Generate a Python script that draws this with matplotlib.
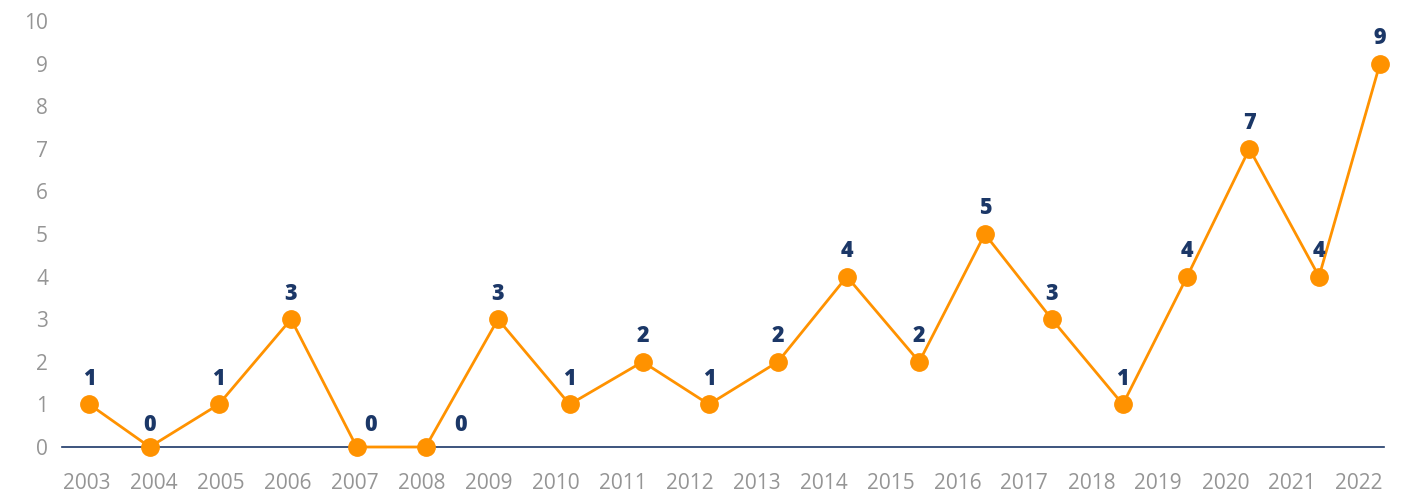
import matplotlib.pyplot as plt
import numpy as np

years = [2003, 2004, 2005, 2006, 2007, 2008, 2009, 2010, 2011, 2012,
         2013, 2014, 2015, 2016, 2017, 2018, 2019, 2020, 2021, 2022]
counts = [1, 0, 1, 3, 0, 0, 3, 1, 2, 1, 2, 4, 2, 5, 3, 1, 4, 7, 4, 9]
# points in the source sit slightly off the year labels
point_x = [2003.04, 2003.94, 2004.97, 2006.05, 2007.03, 2008.06, 2009.14, 2010.21,
           2011.30, 2012.29, 2013.32, 2014.35, 2015.43, 2016.41, 2017.41, 2018.47,
           2019.43, 2020.36, 2021.40, 2022.31]

orange = "#FF9200"
navy = "#1B3767"
grey = "#959595"

plt.rcParams['font.family'] = ['Open Sans', 'DejaVu Sans']

fig = plt.figure(figsize=(14.14, 4.96), dpi=100)
ax = fig.add_axes([62/1414, 1-447/496, (1384-62)/1414, (447-21)/496])

ax.plot(point_x, counts, color=orange, lw=2.0, marker='o', ms=12.5,
        clip_on=False, zorder=3)

# label offsets (points) for the zero labels that sit beside the marker
label_dx = {2007: 10, 2008: 25}
for yr, x, v in zip(years, point_x, counts):
    dx = label_dx.get(yr, 0)
    dy = 16 if v == 0 else 18.5
    ax.annotate(str(v), (x, v), xytext=(dx, dy), textcoords='offset points',
                ha='center', va='center', fontsize=15.5, fontweight='heavy',
                color=navy)

ax.set_xlim(2002.63, 2022.37)
ax.set_ylim(0, 10)
ax.set_xticks(years)
ax.set_xticklabels([str(y) for y in years])
ax.set_yticks(range(0, 11))

for s in ['top', 'right', 'left']:
    ax.spines[s].set_visible(False)
ax.spines['bottom'].set_color(navy)
ax.spines['bottom'].set_linewidth(1.2)
ax.spines['bottom'].set_zorder(1)

ax.tick_params(axis='x', length=0, pad=19, labelsize=15, labelcolor=grey)
ax.tick_params(axis='y', length=0, pad=10, labelsize=15, labelcolor=grey)

fig.savefig("out.png", dpi=100)
